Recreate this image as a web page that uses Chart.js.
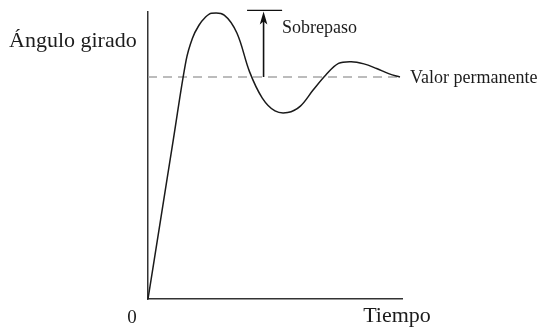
<!DOCTYPE html>
<html>
<head>
<meta charset="utf-8">
<script src="https://cdn.jsdelivr.net/npm/chart.js@4.4.1/dist/chart.umd.min.js"></script>
<style>
  html, body { margin: 0; padding: 0; background: #ffffff; }
  canvas { display: block; }
</style>
</head>
<body>
<canvas id="c" width="544" height="330"></canvas>
<script>
// Step response of a second-order system: angle turned versus time
const timeValues  = [0, 0.5, 1.0, 1.5, 1.75, 2.0, 2.25, 2.5, 3.0, 3.5, 4.0, 4.5, 5.0, 5.5, 6.0, 6.5, 7.0, 7.5, 8.0, 8.5, 9.0, 9.5, 9.92];
const angleValues = [0, 0.36, 0.72, 1.075, 1.175, 1.232, 1.268, 1.287, 1.279, 1.198, 1.023, 0.905, 0.847, 0.840, 0.869, 0.941, 1.009, 1.061, 1.069, 1.059, 1.038, 1.014, 1.0];

// Steady-state level and the overshoot marker
const steadyValue = 1.0;
const steadyRange = [0, 9.92];
const overshootTime = 4.55;
const overshootTop = 1.30;
const overshootBar = [3.9, 5.28];

// Axis extents
const timeMax = 10;
const angleMax = 1.295;

// Text labels
const yAxisLabel = "Ángulo girado";
const xAxisLabel = "Tiempo";
const originLabel = "0";
const overshootLabel = "Sobrepaso";
const steadyLabel = "Valor permanente";

const serif = '"Liberation Serif", "DejaVu Serif", serif';
const ink = '#1c1c1c';

const responsePoints = timeValues.map((t, i) => ({ x: t, y: angleValues[i] }));
const steadyPoints = steadyRange.map(t => ({ x: t, y: steadyValue }));

const annotations = {
  id: 'annotations',
  afterDatasetsDraw(chart) {
    const { ctx, scales: { x, y } } = chart;
    ctx.save();

    // Overshoot arrow: from the steady level up to the first peak
    const ax = x.getPixelForValue(overshootTime);
    const yBase = y.getPixelForValue(steadyValue);
    const yTop = y.getPixelForValue(overshootTop);
    ctx.strokeStyle = '#111111';
    ctx.fillStyle = '#111111';
    ctx.lineWidth = 1.6;
    ctx.beginPath();
    ctx.moveTo(ax, yBase);
    ctx.lineTo(ax, yTop + 10);
    ctx.stroke();
    ctx.beginPath();
    ctx.moveTo(ax, yTop + 1);
    ctx.lineTo(ax - 3.8, yTop + 14);
    ctx.lineTo(ax, yTop + 11);
    ctx.lineTo(ax + 3.8, yTop + 14);
    ctx.closePath();
    ctx.fill();

    // Peak reference bar
    ctx.lineWidth = 1.3;
    ctx.beginPath();
    ctx.moveTo(x.getPixelForValue(overshootBar[0]), yTop);
    ctx.lineTo(x.getPixelForValue(overshootBar[1]), yTop);
    ctx.stroke();

    // Labels
    ctx.fillStyle = ink;
    ctx.textBaseline = 'alphabetic';
    ctx.textAlign = 'left';
    ctx.font = '18px ' + serif;
    ctx.fillText(overshootLabel, x.getPixelForValue(overshootBar[1]), 33);
    ctx.fillText(steadyLabel, x.getPixelForValue(steadyRange[1]) + 10, yBase + 6);

    ctx.font = '22px ' + serif;
    ctx.fillText(yAxisLabel, 9, 47);
    ctx.textAlign = 'center';
    ctx.fillText(xAxisLabel, 397, 322);

    ctx.font = '19px ' + serif;
    ctx.fillText(originLabel, x.left - 16, 323);

    ctx.restore();
  }
};

new Chart(document.getElementById('c'), {
  type: 'line',
  data: {
    datasets: [
      {
        label: 'Respuesta',
        data: responsePoints,
        borderColor: '#1a1a1a',
        borderWidth: 1.5,
        pointRadius: 0,
        fill: false,
        tension: 0.35,
        clip: false
      },
      {
        label: 'Valor permanente',
        data: steadyPoints,
        borderColor: '#a6a6a6',
        borderWidth: 1.6,
        borderDash: [9, 6],
        pointRadius: 0,
        fill: false,
        clip: false
      }
    ]
  },
  options: {
    responsive: false,
    animation: false,
    events: [],
    layout: { padding: { left: 148, right: 142, top: 11.5, bottom: 31 } },
    plugins: { legend: { display: false }, tooltip: { enabled: false } },
    scales: {
      x: {
        type: 'linear', min: 0, max: timeMax,
        ticks: { display: false },
        grid: { display: false, drawTicks: false },
        border: { display: true, color: '#333333', width: 1.5 }
      },
      y: {
        type: 'linear', min: 0, max: angleMax,
        ticks: { display: false },
        grid: { display: false, drawTicks: false },
        border: { display: true, color: '#333333', width: 1.5 }
      }
    }
  },
  plugins: [annotations]
});
</script>
</body>
</html>
